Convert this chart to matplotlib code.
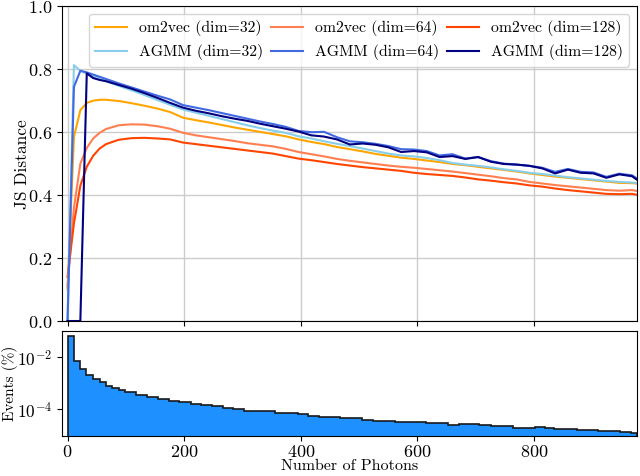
import numpy as np
import matplotlib
matplotlib.use("Agg")
import matplotlib.pyplot as plt
from matplotlib.ticker import NullLocator

plt.rcParams["font.family"] = "cmr10"
plt.rcParams["mathtext.fontset"] = "cm"
plt.rcParams["axes.formatter.use_mathtext"] = True
plt.rcParams["font.size"] = 12.5
plt.rcParams["xtick.labelsize"] = 13
plt.rcParams["ytick.labelsize"] = 13

# photon counts where the JS distance was evaluated
photons = [0, 11, 22, 33, 44, 55, 66, 88, 110, 132, 154, 176, 198, 220, 242,
           264, 286, 308, 330, 352, 374, 396, 418, 440, 462, 484, 506, 528,
           550, 572, 594, 616, 638, 660, 682, 704, 726, 748, 770, 792, 814,
           836, 858, 880, 902, 924, 946, 968, 977]

om2vec_32 = [0.10, 0.585, 0.67, 0.693, 0.700, 0.703, 0.703, 0.699, 0.692, 0.684,
             0.675, 0.664, 0.646, 0.638, 0.631, 0.623, 0.615, 0.608, 0.601, 0.594,
             0.587, 0.577, 0.569, 0.562, 0.553, 0.546, 0.539, 0.531, 0.525, 0.519,
             0.515, 0.510, 0.505, 0.499, 0.495, 0.490, 0.485, 0.480, 0.475, 0.469,
             0.464, 0.459, 0.455, 0.451, 0.447, 0.443, 0.439, 0.438, 0.437]
om2vec_64 = [0.11, 0.36, 0.50, 0.55, 0.58, 0.598, 0.610, 0.622, 0.625, 0.624,
             0.619, 0.611, 0.598, 0.590, 0.584, 0.578, 0.572, 0.565, 0.560, 0.555,
             0.547, 0.537, 0.530, 0.523, 0.515, 0.509, 0.504, 0.499, 0.494, 0.490,
             0.487, 0.483, 0.479, 0.475, 0.470, 0.465, 0.460, 0.454, 0.450, 0.442,
             0.437, 0.432, 0.428, 0.424, 0.420, 0.416, 0.414, 0.416, 0.413]
om2vec_128 = [0.14, 0.31, 0.43, 0.49, 0.525, 0.548, 0.562, 0.576, 0.581, 0.582,
              0.580, 0.577, 0.567, 0.562, 0.557, 0.552, 0.547, 0.542, 0.537, 0.532,
              0.524, 0.516, 0.511, 0.505, 0.499, 0.494, 0.489, 0.485, 0.481, 0.477,
              0.471, 0.467, 0.464, 0.461, 0.456, 0.450, 0.446, 0.441, 0.437, 0.431,
              0.427, 0.421, 0.416, 0.412, 0.408, 0.404, 0.403, 0.404, 0.401]
agmm_32 = [0.0, 0.813, 0.795, 0.786, 0.778, 0.770, 0.762, 0.747, 0.733, 0.718,
           0.702, 0.687, 0.672, 0.662, 0.652, 0.642, 0.632, 0.622, 0.613, 0.605,
           0.598, 0.587, 0.580, 0.571, 0.563, 0.556, 0.548, 0.540, 0.532, 0.526,
           0.523, 0.518, 0.511, 0.502, 0.497, 0.493, 0.488, 0.482, 0.477, 0.471,
           0.467, 0.462, 0.457, 0.453, 0.449, 0.445, 0.442, 0.440, 0.438]
agmm_64 = [0.0, 0.744, 0.795, 0.790, 0.783, 0.776, 0.769, 0.755, 0.742, 0.729,
           0.716, 0.704, 0.686, 0.678, 0.670, 0.661, 0.652, 0.643, 0.634, 0.626,
           0.617, 0.604, 0.600, 0.601, 0.584, 0.571, 0.568, 0.563, 0.556, 0.546,
           0.545, 0.540, 0.526, 0.530, 0.516, 0.521, 0.508, 0.500, 0.497, 0.493,
           0.487, 0.474, 0.483, 0.474, 0.472, 0.458, 0.468, 0.463, 0.452]
agmm_128 = [0.0, 0.0, 0.0, 0.787, 0.772, 0.766, 0.762, 0.750, 0.738, 0.724,
            0.709, 0.693, 0.678, 0.668, 0.660, 0.651, 0.643, 0.636, 0.627, 0.619,
            0.611, 0.602, 0.590, 0.586, 0.577, 0.561, 0.564, 0.560, 0.552, 0.537,
            0.540, 0.536, 0.521, 0.524, 0.515, 0.521, 0.506, 0.499, 0.497, 0.493,
            0.485, 0.469, 0.481, 0.471, 0.469, 0.455, 0.466, 0.460, 0.448]

# event distribution (fraction of events per photon-count bin)
bin_edges = [0, 11, 21, 32, 44, 55, 66, 77, 89, 99, 117, 136, 155, 174, 192,
             211, 229, 247, 266, 284, 303, 356, 395, 413, 432, 468, 505, 524,
             561, 598, 615, 652, 672, 706, 726, 763, 781, 801, 818, 835, 873,
             910, 947, 967, 977]
events = [6.95e-2, 7.40e-3, 3.51e-3, 2.11e-3, 1.48e-3, 1.09e-3, 8.13e-4, 6.40e-4,
          5.35e-4, 4.47e-4, 3.51e-4, 3.02e-4, 2.45e-4, 2.04e-4, 1.91e-4, 1.62e-4,
          1.45e-4, 1.29e-4, 1.12e-4, 1.05e-4, 8.91e-5, 7.24e-5, 6.46e-5, 5.69e-5,
          5.25e-5, 4.47e-5, 3.89e-5, 3.63e-5, 3.24e-5, 3.16e-5, 2.88e-5, 2.51e-5,
          2.69e-5, 2.45e-5, 2.24e-5, 1.95e-5, 1.82e-5, 2.04e-5, 1.82e-5, 1.74e-5,
          1.62e-5, 1.48e-5, 1.38e-5, 1.20e-5]

fig = plt.figure(figsize=(6.4, 4.76), dpi=100)
ax1 = fig.add_axes([0.0973, 0.3256, 0.8985, 0.6612])
ax2 = fig.add_axes([0.0973, 0.0840, 0.8985, 0.2196], sharex=ax1)

series = [
    (om2vec_32, "orange", "om2vec (dim=32)"),
    (om2vec_64, "coral", "om2vec (dim=64)"),
    (om2vec_128, "orangered", "om2vec (dim=128)"),
    (agmm_32, "skyblue", "AGMM (dim=32)"),
    (agmm_64, "royalblue", "AGMM (dim=64)"),
    (agmm_128, "navy", "AGMM (dim=128)"),
]
lines = {}
for vals, color, label in series:
    (ln,) = ax1.plot(photons, vals, color=color, linewidth=1.5, label=label)
    lines[label] = ln

ax1.set_ylim(0, 1)
ax1.set_xlim(-9, 977)
ax1.set_yticks([0.0, 0.2, 0.4, 0.6, 0.8, 1.0])
ax1.set_ylabel("JS Distance")
ax1.yaxis.set_label_coords(-0.056, 0.5)
ax1.grid(True, color="#cccccc", linewidth=1.0)
ax1.tick_params(labelbottom=False)

order = ["om2vec (dim=32)", "AGMM (dim=32)", "om2vec (dim=64)",
         "AGMM (dim=64)", "om2vec (dim=128)", "AGMM (dim=128)"]
ax1.legend([lines[k] for k in order], order, ncol=3, loc="upper right",
           fontsize=11.3, handlelength=2.0, handletextpad=0.8,
           columnspacing=0.5, labelspacing=0.5)

ax2.stairs(events, bin_edges, baseline=1e-7, fill=True, color="dodgerblue")
ax2.stairs(events, bin_edges, baseline=1e-7, fill=False, color="#1a1a1a",
           linewidth=1.2)
ax2.set_yscale("log")
ax2.set_ylim(9.3e-6, 0.1)
ax2.set_yticks([1e-2, 1e-4])
ax2.yaxis.set_minor_locator(NullLocator())
ax2.tick_params(axis="y", labelsize=12.5)
ax2.set_xticks([0, 200, 400, 600, 800])
ax2.tick_params(axis="x", pad=2)
ax2.set_ylabel("Events (%)", fontsize=11)
ax2.yaxis.set_label_coords(-0.0765, 0.5)
ax2.set_xlabel("Number of Photons", fontsize=11.5, labelpad=0)

fig.savefig("out.png", dpi=100)
